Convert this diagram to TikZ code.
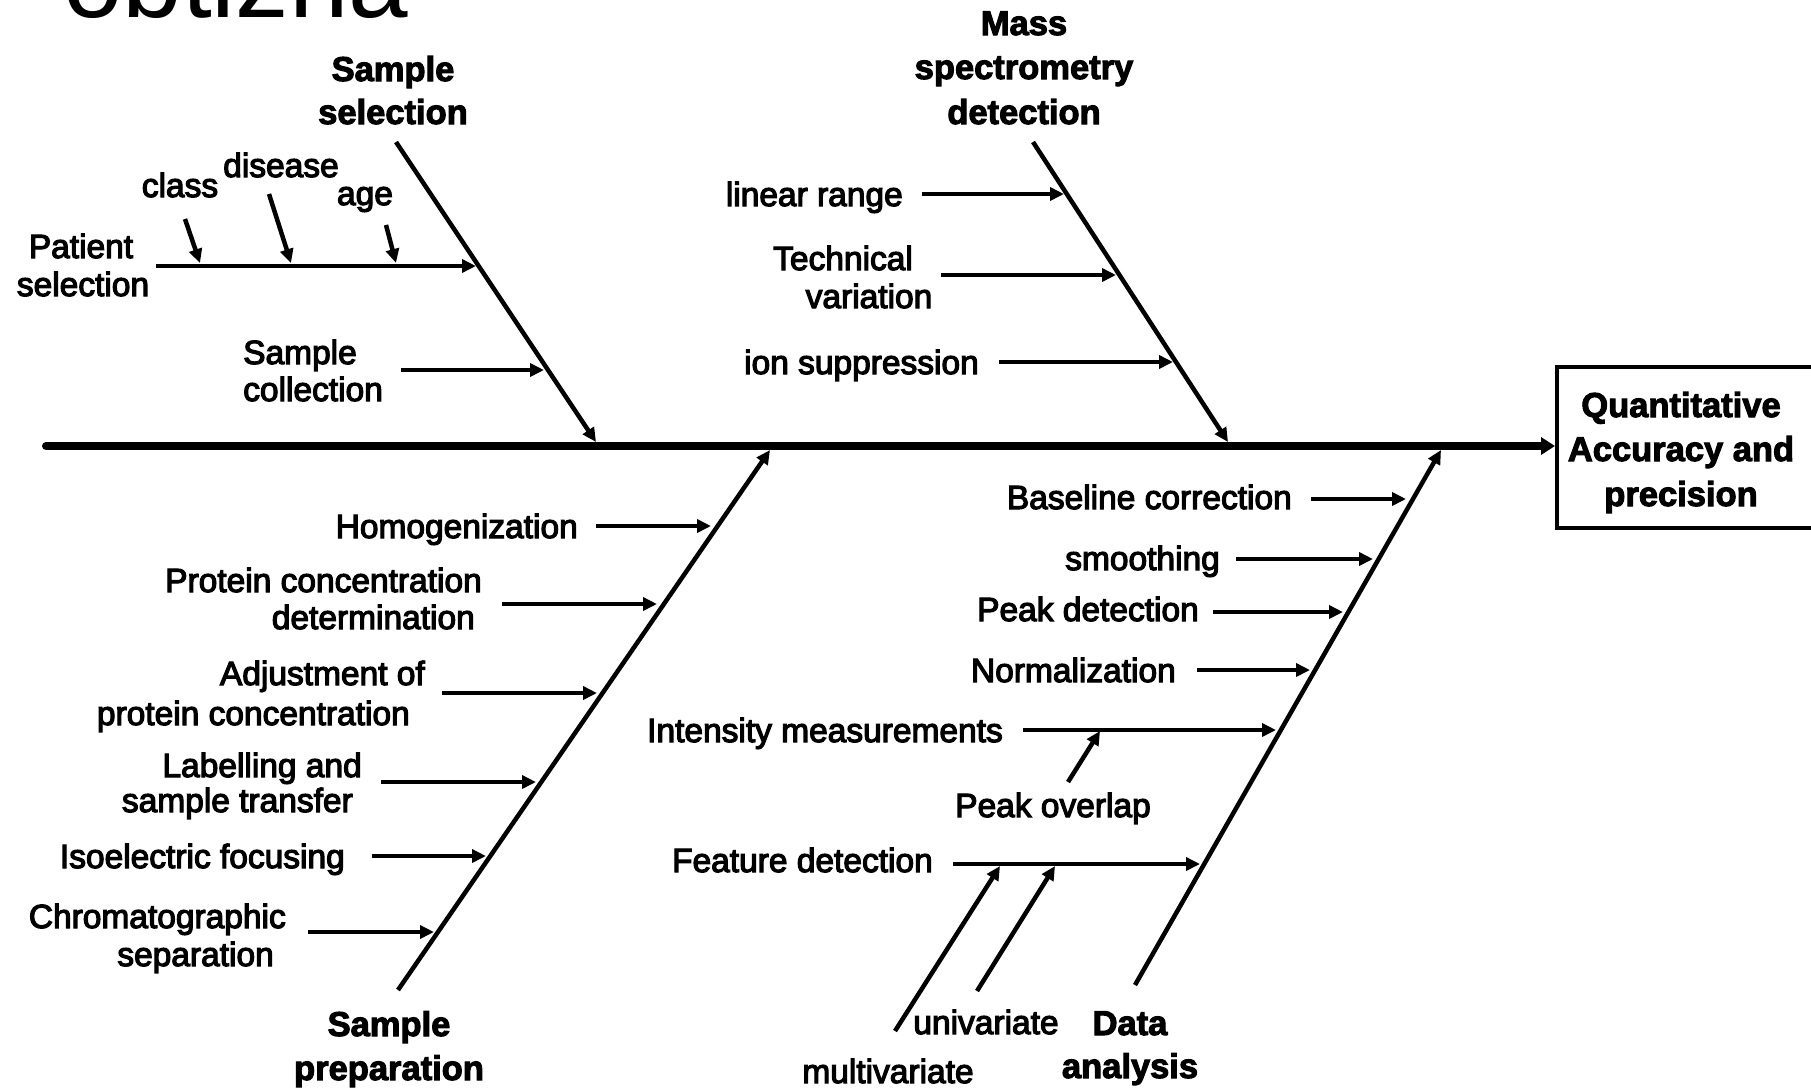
\documentclass[tikz,border=0pt]{standalone}
\usepackage{fontspec}
\setmainfont{Liberation Sans}
\newfontfamily\lblfont{Liberation Sans}[FakeBold=3.5]
\newfontfamily\hdrfont{Liberation Sans Bold}[FakeBold=3]
\usetikzlibrary{arrows.meta}
\begin{document}
\begin{tikzpicture}[x=1pt,y=-1pt,
  spine/.style={line width=8pt, line cap=round, -{Triangle[length=14pt,width=17pt]}},
  bone/.style={line width=4.5pt, -{Triangle[length=14pt,width=13pt]}},
  arr/.style={line width=4.5pt, -{Triangle[length=14pt,width=13pt]}},
  lbl/.style={font=\fontsize{33.5}{38}\lblfont, inner sep=0pt},
  hdr/.style={font=\fontsize{34.5}{44}\hdrfont, inner sep=0pt},
  goalbox/.style={draw, line width=4pt, minimum width=300pt, minimum height=161pt, anchor=west, inner sep=0pt}]
\useasboundingbox (0,0) rectangle (1811,1088);
\clip (0,0) rectangle (1811,1088);
\fill[white] (0,0) rectangle (1811,1088);

% title fragment
\node[font=\fontsize{107}{120}\selectfont, anchor=base west, inner sep=0pt] (title) at (63,17) {obtizna};

% spine and goal
\node[goalbox] (goal) at (1555,447.5) {};
\node[hdr, anchor=base] (q1) at (1681,417) {Quantitative};
\node[hdr, anchor=base] (q2) at (1681,461) {Accuracy and};
\node[hdr, anchor=base] (q3) at (1681,506) {precision};
\coordinate (sp0) at (46,446);
\draw[spine] (sp0) -- (sp0 -| goal.west);

% ---------- Sample selection ----------
\node[hdr, anchor=base] (ss1) at (393,81) {Sample};
\node[hdr, anchor=base] (ss2) at (393,124) {selection};
\coordinate (b1s) at (396,142); \coordinate (b1e) at (596,442);
\draw[bone] (b1s) -- (b1e);

\node[lbl, anchor=base] (pat1) at (81,258) {Patient};
\node[lbl, anchor=base] (pat2) at (83,296) {selection};
\coordinate (paS) at (156,266); \coordinate (paE) at (476,266);
\draw[arr] (paS) -- (paE);

\node[lbl, anchor=base] (cls) at (180,197) {class};
\node[lbl, anchor=base] (dis) at (281,177) {disease};
\node[lbl, anchor=base] (age) at (365,205) {age};
\coordinate (clS) at (185,219); \coordinate (clE) at (200,263);
\coordinate (diS) at (269,194); \coordinate (diE) at (291,263);
\coordinate (agS) at (386,225); \coordinate (agE) at (396,263);
\draw[arr] (clS) -- (clE);
\draw[arr] (diS) -- (diE);
\draw[arr] (agS) -- (agE);

\node[lbl, anchor=base west] (sc1) at (243,364) {Sample};
\node[lbl, anchor=base west] (sc2) at (243,401) {collection};
\coordinate (scS) at (401,370); \coordinate (scE) at (544,370);
\draw[arr] (scS) -- (scE);

% ---------- Mass spectrometry detection ----------
\node[hdr, anchor=base] (ms1) at (1024,35) {Mass};
\node[hdr, anchor=base] (ms2) at (1024,79) {spectrometry};
\node[hdr, anchor=base] (ms3) at (1024,124) {detection};
\coordinate (b2s) at (1033,142); \coordinate (b2e) at (1228,442);
\draw[bone] (b2s) -- (b2e);

\node[lbl, anchor=base east] (lr) at (903,206) {linear range};
\coordinate (lrS) at (922,194); \coordinate (lrE) at (1064,194);
\draw[arr] (lrS) -- (lrE);

\node[lbl, anchor=base] (tv1) at (843,270) {Technical};
\node[lbl, anchor=base] (tv2) at (869,308) {variation};
\coordinate (tvS) at (941,275); \coordinate (tvE) at (1116,275);
\draw[arr] (tvS) -- (tvE);

\node[lbl, anchor=base east] (ion) at (979,374) {ion suppression};
\coordinate (isS) at (999,362); \coordinate (isE) at (1173,362);
\draw[arr] (isS) -- (isE);

% ---------- Sample preparation ----------
\node[hdr, anchor=base] (sp1) at (389,1036) {Sample};
\node[hdr, anchor=base] (sp2) at (389,1080) {preparation};
\coordinate (b3s) at (398,990); \coordinate (b3e) at (770,450);
\draw[bone] (b3s) -- (b3e);

\node[lbl, anchor=base east] (ho) at (578,538) {Homogenization};
\coordinate (hoS) at (596,526); \coordinate (hoE) at (711,526);
\draw[arr] (hoS) -- (hoE);

\node[lbl, anchor=base east] (pc1) at (482,592) {Protein concentration};
\node[lbl, anchor=base east] (pc2) at (475,629) {determination};
\coordinate (pcS) at (502,604); \coordinate (pcE) at (657,604);
\draw[arr] (pcS) -- (pcE);

\node[lbl, anchor=base east] (ad1) at (425,685) {Adjustment of};
\node[lbl, anchor=base east] (ad2) at (410,725) {protein concentration};
\coordinate (adS) at (442,693); \coordinate (adE) at (597,693);
\draw[arr] (adS) -- (adE);

\node[lbl, anchor=base east] (la1) at (362,777) {Labelling and};
\node[lbl, anchor=base east] (la2) at (353,812) {sample transfer};
\coordinate (laS) at (381,782); \coordinate (laE) at (536,782);
\draw[arr] (laS) -- (laE);

\node[lbl, anchor=base east] (ie) at (345,868) {Isoelectric focusing};
\coordinate (ieS) at (372,856); \coordinate (ieE) at (486,856);
\draw[arr] (ieS) -- (ieE);

\node[lbl, anchor=base east] (ch1) at (286,928) {Chromatographic};
\node[lbl, anchor=base east] (ch2) at (274,966) {separation};
\coordinate (chS) at (308,932); \coordinate (chE) at (434,932);
\draw[arr] (chS) -- (chE);

% ---------- Data analysis ----------
\node[hdr, anchor=base] (da1) at (1130,1035) {Data};
\node[hdr, anchor=base] (da2) at (1130,1078) {analysis};
\coordinate (b4s) at (1135,985); \coordinate (b4e) at (1441,450);
\draw[bone] (b4s) -- (b4e);

\node[lbl, anchor=base east] (bc) at (1292,509) {Baseline correction};
\coordinate (bcS) at (1311,499); \coordinate (bcE) at (1406,499);
\draw[arr] (bcS) -- (bcE);

\node[lbl, anchor=base east] (sm) at (1220,570) {smoothing};
\coordinate (smS) at (1236,559); \coordinate (smE) at (1373,559);
\draw[arr] (smS) -- (smE);

\node[lbl, anchor=base east] (pd) at (1199,621) {Peak detection};
\coordinate (pdS) at (1213,612); \coordinate (pdE) at (1343,612);
\draw[arr] (pdS) -- (pdE);

\node[lbl, anchor=base east] (no) at (1176,682) {Normalization};
\coordinate (noS) at (1197,670); \coordinate (noE) at (1310,670);
\draw[arr] (noS) -- (noE);

\node[lbl, anchor=base east] (im) at (1003,742) {Intensity measurements};
\coordinate (imS) at (1023,730); \coordinate (imE) at (1276,730);
\draw[arr] (imS) -- (imE);

\node[lbl, anchor=base] (po) at (1053,817) {Peak overlap};
\coordinate (poS) at (1068,782); \coordinate (poE) at (1100,731);
\draw[arr] (poS) -- (poE);

\node[lbl, anchor=base east] (fd) at (933,872) {Feature detection};
\coordinate (fdS) at (953,864); \coordinate (fdE) at (1200,864);
\draw[arr] (fdS) -- (fdE);

\node[lbl, anchor=base] (mv) at (888,1083) {multivariate};
\coordinate (mvS) at (895,1031); \coordinate (mvE) at (1000,866);
\draw[arr] (mvS) -- (mvE);

\node[lbl, anchor=base] (uv) at (986,1034) {univariate};
\coordinate (uvS) at (977,991); \coordinate (uvE) at (1055,866);
\draw[arr] (uvS) -- (uvE);
\end{tikzpicture}
\end{document}
